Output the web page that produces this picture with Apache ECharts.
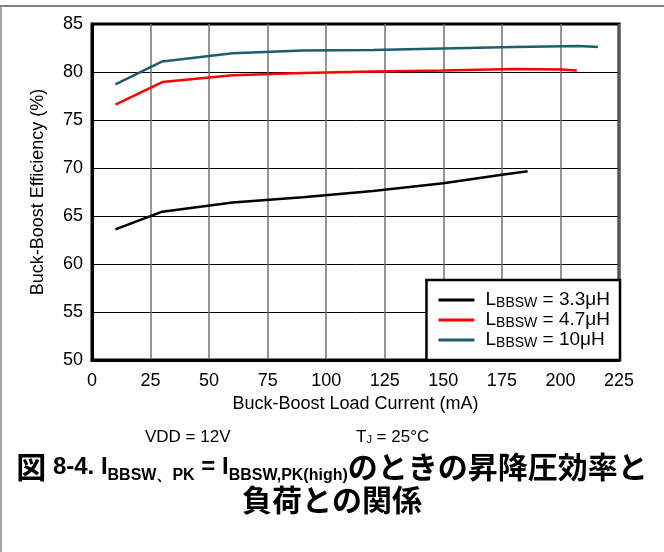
<!DOCTYPE html>
<html>
<head>
<meta charset="utf-8">
<style>
  html, body { margin: 0; padding: 0; background: #fff; }
  #chart { width: 664px; height: 552px; }
</style>
<script src="https://cdn.jsdelivr.net/npm/echarts@6/dist/echarts.min.js"></script>
</head>
<body>
<div id="chart"></div>
<script>
// load current (mA) for each curve
const current33 = [10, 30, 60, 90, 120, 150, 175, 186];
const eff33 = [63.6, 65.45, 66.4, 66.95, 67.6, 68.4, 69.3, 69.65];

const current47 = [10, 30, 60, 90, 120, 150, 180, 200, 207];
const eff47 = [76.6, 78.95, 79.65, 79.9, 80.05, 80.15, 80.3, 80.25, 80.15];

const current10 = [10, 30, 60, 90, 120, 150, 180, 208, 216];
const eff10 = [78.7, 81.1, 81.95, 82.25, 82.3, 82.45, 82.6, 82.7, 82.6];

const seriesNames = ['3.3μH', '4.7μH', '10μH'];
const seriesColors = ['#000000', '#ff0000', '#1d5e6e'];

function pairs(xs, ys) {
  return xs.map((x, i) => [x, ys[i]]);
}

let chartDom = document.getElementById('chart');
let myChart = echarts.init(chartDom);
const latin = 'Liberation Sans, Arial, sans-serif';
const narrow = '"Liberation Sans Narrow", "Liberation Sans", Arial, sans-serif';
const jp = '"Noto Sans CJK JP", sans-serif';

let option = {
  animation: false,
  backgroundColor: '#fff',
  grid: {
    left: 92, top: 24, right: 45, bottom: 192,
    show: true,
    borderColor: '#000',
    borderWidth: 3
  },
  xAxis: {
    type: 'value',
    min: 0, max: 225, interval: 25,
    name: 'Buck-Boost Load Current (mA)',
    nameLocation: 'middle',
    nameGap: 31,
    nameTextStyle: { fontFamily: latin, fontSize: 18, color: '#000' },
    axisLine: { lineStyle: { color: '#000', width: 3 } },
    axisTick: { show: false },
    axisLabel: { fontFamily: latin, fontSize: 18, color: '#000', margin: 12 },
    splitLine: { lineStyle: { color: '#707070', width: 1.5 } }
  },
  yAxis: {
    type: 'value',
    min: 50, max: 85, interval: 5,
    name: 'Buck-Boost Efficiency (%)',
    nameLocation: 'middle',
    nameGap: 45,
    nameTextStyle: { fontFamily: latin, fontSize: 18, color: '#000' },
    axisLine: { show: true, lineStyle: { color: '#000', width: 3 } },
    axisTick: { show: false },
    axisLabel: { fontFamily: latin, fontSize: 18, color: '#000', margin: 9 },
    splitLine: { lineStyle: { color: '#000', width: 1 } }
  },
  legend: {
    orient: 'vertical',
    right: 44,
    bottom: 192,
    padding: [10, 10, 10, 12],
    itemGap: 0,
    itemWidth: 36,
    itemHeight: 3,
    icon: 'rect',
    backgroundColor: '#fff',
    borderColor: '#000',
    borderWidth: 2.5,
    borderRadius: 0,
    data: seriesNames,
    formatter: name => 'L{s|BBSW} = ' + name,
    textStyle: {
      fontFamily: latin,
      fontSize: 19,
      color: '#000',
      lineHeight: 20,
      padding: [0, 0, 0, 6],
      rich: {
        s: { fontFamily: latin, fontSize: 14, color: '#000', verticalAlign: 'bottom', lineHeight: 17 }
      }
    }
  },
  series: [
    { name: seriesNames[0], type: 'line', data: pairs(current33, eff33) },
    { name: seriesNames[1], type: 'line', data: pairs(current47, eff47) },
    { name: seriesNames[2], type: 'line', data: pairs(current10, eff10) }
  ].map((s, i) => Object.assign(s, {
    showSymbol: false,
    symbol: 'none',
    color: seriesColors[i],
    lineStyle: { width: 2.5, color: seriesColors[i] }
  })),
  graphic: [
    { type: 'line', shape: { x1: 0, y1: 6, x2: 664, y2: 6 }, style: { stroke: '#000', lineWidth: 1 } },
    { type: 'line', shape: { x1: 1, y1: 6, x2: 1, y2: 552 }, style: { stroke: '#888', lineWidth: 1.5 } },
    {
      type: 'text',
      style: {
        x: 145, y: 437, text: 'VDD = 12V',
        font: '17px ' + narrow, fill: '#000',
        textVerticalAlign: 'middle'
      }
    },
    {
      type: 'text',
      style: {
        x: 356, y: 437, text: 'T{s|J} = 25°C',
        font: '17px ' + narrow, fill: '#000',
        textVerticalAlign: 'middle',
        rich: { s: { font: '11px ' + narrow, verticalAlign: 'bottom', lineHeight: 14 } }
      }
    },
    {
      type: 'text',
      style: {
        x: 332, y: 467,
        text: '{c|図}{l| 8-4. I}{s|BBSW、PK}{l| = I}{s|BBSW,PK(high)}{c|のときの昇降圧効率と}',
        fill: '#000',
        textAlign: 'center', textVerticalAlign: 'middle',
        rich: {
          c: { font: 'bold 30px ' + jp, lineHeight: 34, verticalAlign: 'middle' },
          l: { font: 'bold 24px ' + latin, lineHeight: 34, verticalAlign: 'middle' },
          s: { font: 'bold 16px ' + latin, lineHeight: 26, verticalAlign: 'bottom' }
        }
      }
    },
    {
      type: 'text',
      style: {
        x: 332, y: 500, text: '負荷との関係',
        font: 'bold 30px ' + jp, fill: '#000',
        textAlign: 'center', textVerticalAlign: 'middle'
      }
    }
  ]
};

option && myChart.setOption(option);
</script>
</body>
</html>
